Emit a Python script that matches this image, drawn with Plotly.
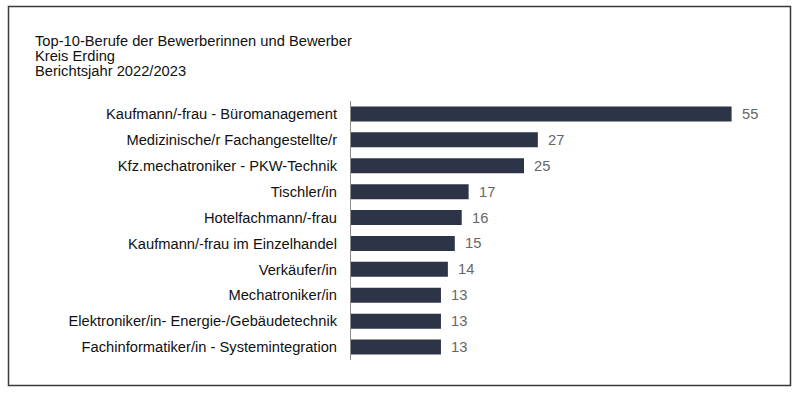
import plotly.graph_objects as go

categories = [
    "Kaufmann/-frau - Büromanagement",
    "Medizinische/r Fachangestellte/r",
    "Kfz.mechatroniker - PKW-Technik",
    "Tischler/in",
    "Hotelfachmann/-frau",
    "Kaufmann/-frau im Einzelhandel",
    "Verkäufer/in",
    "Mechatroniker/in",
    "Elektroniker/in- Energie-/Gebäudetechnik",
    "Fachinformatiker/in - Systemintegration",
]
values = [55, 27, 25, 17, 16, 15, 14, 13, 13, 13]
title_lines = [
    "Top-10-Berufe der Bewerberinnen und Bewerber",
    "Kreis Erding",
    "Berichtsjahr 2022/2023",
]

W, H = 800, 394
ML, MR, MT, MB = 351, 34, 101, 34
PW, PH = W - ML - MR, H - MT - MB
FONT = "Liberation Sans, Arial, sans-serif"
FS = 14.7

fig = go.Figure(go.Bar(
    x=values, y=categories, orientation="h",
    marker=dict(color="#2e3447", line=dict(width=0)),
    hoverinfo="skip",
))

annotations = []
for c, v in zip(categories, values):
    annotations.append(dict(
        x=v, y=c, xref="x", yref="y", text=str(v), showarrow=False,
        xanchor="left", xshift=8, font=dict(family=FONT, size=FS, color="#666666"),
    ))

def px_x(p):
    return (p - ML) / PW

def px_y(p):
    return 1 - (p - MT) / PH

for i, line in enumerate(title_lines):
    annotations.append(dict(
        x=px_x(33), y=px_y(48 + i * 15), xref="paper", yref="paper",
        text=line, showarrow=False, xanchor="left", yanchor="bottom",
        yshift=-3, font=dict(family=FONT, size=FS, color="#111111"),
    ))

fig.update_layout(
    width=W, height=H,
    margin=dict(l=ML, r=MR, t=MT, b=MB),
    paper_bgcolor="white", plot_bgcolor="white",
    bargap=0.42,
    showlegend=False,
    xaxis=dict(range=[0, PW / 6.92], visible=False, fixedrange=True),
    yaxis=dict(
        autorange="reversed", showline=True, linecolor="#8c8c8c", linewidth=1,
        showgrid=False, ticks="", ticklabelstandoff=10, fixedrange=True,
        tickfont=dict(family=FONT, size=FS, color="#111111"),
    ),
    annotations=annotations,
    shapes=[dict(
        type="rect", xref="paper", yref="paper",
        x0=px_x(8.5), x1=px_x(790.5), y0=px_y(6.5), y1=px_y(385.5),
        line=dict(color="#3a3a3a", width=1.5), fillcolor="rgba(0,0,0,0)",
    )],
)

fig.write_html("out.html", config={"displayModeBar": False},
               post_script="document.body.style.margin='0';")
